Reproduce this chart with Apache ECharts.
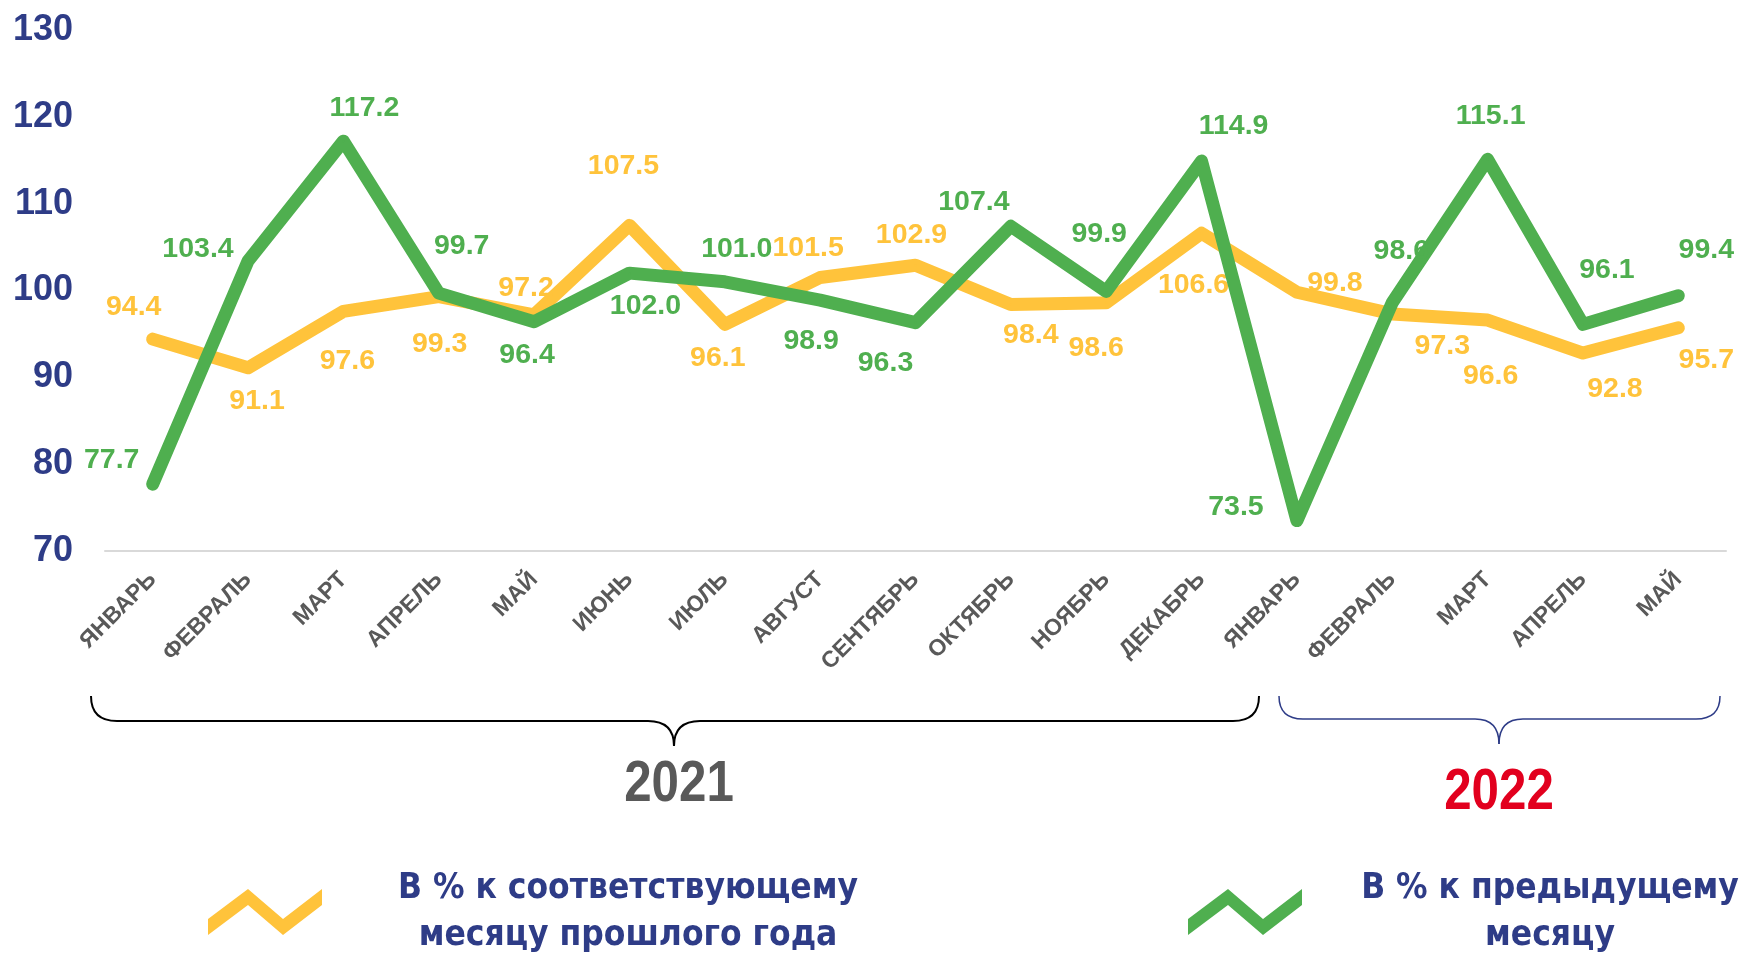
<!DOCTYPE html>
<html>
<head>
<meta charset="utf-8">
<script src="https://cdn.jsdelivr.net/npm/echarts@6/dist/echarts.min.js"></script>
<style>
html,body{margin:0;padding:0;background:#fff;}
#chart{width:1739px;height:953px;}
</style>
</head>
<body>
<div id="chart"></div>
<script>
const categories = ['ЯНВАРЬ','ФЕВРАЛЬ','МАРТ','АПРЕЛЬ','МАЙ','ИЮНЬ','ИЮЛЬ','АВГУСТ','СЕНТЯБРЬ','ОКТЯБРЬ','НОЯБРЬ','ДЕКАБРЬ','ЯНВАРЬ','ФЕВРАЛЬ','МАРТ','АПРЕЛЬ','МАЙ'];
const yoyValues = [94.4, 91.1, 97.6, 99.3, 97.2, 107.5, 96.1, 101.5, 102.9, 98.4, 98.6, 106.6, 99.8, 97.3, 96.6, 92.8, 95.7];
const momValues = [77.7, 103.4, 117.2, 99.7, 96.4, 102.0, 101.0, 98.9, 96.3, 107.4, 99.9, 114.9, 73.5, 98.6, 115.1, 96.1, 99.4];
const yoyName = 'В % к соответствующему месяцу прошлого года';
const momName = 'В % к предыдущему месяцу';
const yearLabels = ['2021', '2022'];
const yTicks = {min: 70, max: 130, interval: 10};

// label offsets (styling only)
const yoyLabelOffsets = [[-19,-32],[9,33],[4,50],[1,48],[-8,-27],[-6,-59],[-7,34],[-12,-29],[-4,-30],[20,31],[-10,45],[-8,52],[38,-9],[50,32],[3,56],[32,36],[28,32]];
const momLabelOffsets = [[-41,-24],[-50,-12],[21,-33],[23,-47],[-7,33],[16,33],[12,-33],[-9,41],[-30,41],[-37,-24],[-7,-57],[32,-35],[-61,-13],[9,-52],[3,-43],[24,-54],[28,-46]];

const YELLOW = '#FFC33B';
const GREEN = '#4FAF4F';
const NAVY = '#2E3C87';
const GRAY = '#595959';
const NARROW = '"Liberation Sans Narrow","DejaVu Sans Condensed","Liberation Sans",Arial,sans-serif';
const SANS = '"Liberation Sans",Arial,sans-serif';

const zigzag = 'path://M0,30L40,0L75,30L114,0L114,16L75,46L40,16L0,46Z';

function mkData(vals, offs) {
  return vals.map((v, i) => ({ value: v, label: { offset: offs[i] } }));
}

function brace(x0, x1, xt, y0, yh, yt, r, color, w) {
  const st = { stroke: color, lineWidth: w, fill: null };
  return [
    { type: 'bezierCurve', shape: { x1: x0, y1: y0, cpx1: x0, cpy1: yh, x2: x0 + r, y2: yh }, style: st },
    { type: 'line', shape: { x1: x0 + r, y1: yh, x2: xt - r, y2: yh }, style: st },
    { type: 'bezierCurve', shape: { x1: xt - r, y1: yh, cpx1: xt, cpy1: yh, x2: xt, y2: yt }, style: st },
    { type: 'bezierCurve', shape: { x1: xt, y1: yt, cpx1: xt, cpy1: yh, x2: xt + r, y2: yh }, style: st },
    { type: 'line', shape: { x1: xt + r, y1: yh, x2: x1 - r, y2: yh }, style: st },
    { type: 'bezierCurve', shape: { x1: x1 - r, y1: yh, cpx1: x1, cpy1: yh, x2: x1, y2: y0 }, style: st }
  ];
}

const chart = echarts.init(document.getElementById('chart'), null, {renderer: 'canvas'});

const lineSeries = (name, vals, offs, color, z) => ({
  name, type: 'line', data: mkData(vals, offs),
  symbol: 'circle', symbolSize: 2, showSymbol: true, showAllSymbol: true,
  itemStyle: { color: color },
  color: color,
  lineStyle: { width: 13, color: color, cap: 'round', join: 'round' },
  label: { show: true, position: 'inside', formatter: p => p.value.toFixed(1),
    color: color, fontFamily: SANS, fontWeight: 'bold', fontSize: 28.5 },
  emphasis: { disabled: true },
  z: z
});

chart.setOption({
  backgroundColor: '#fff',
  animation: false,
  grid: { left: 105, right: 13, top: 30, bottom: 402 },
  xAxis: {
    type: 'category',
    data: categories,
    boundaryGap: true,
    axisLine: { show: true, lineStyle: { color: '#D9D9D9', width: 2 } },
    axisTick: { show: false },
    axisLabel: {
      interval: 0, rotate: 45, margin: 25,
      color: GRAY, fontFamily: SANS, fontWeight: 'bold', fontSize: 23
    }
  },
  yAxis: {
    type: 'value',
    min: yTicks.min, max: yTicks.max, interval: yTicks.interval,
    splitLine: { show: false },
    axisLine: { show: false },
    axisTick: { show: false },
    axisLabel: { margin: 32, color: NAVY, fontFamily: SANS, fontWeight: 'bold', fontSize: 36, padding: [5, 0, 0, 0] }
  },
  legend: [
    {
      data: [{ name: yoyName, icon: zigzag }],
      left: 208, top: 871, padding: 0, selectedMode: false,
      itemWidth: 114, itemHeight: 46,
      formatter: () => '{a|В % к соответствующему}\n{a|месяцу прошлого года}',
      textStyle: {
        rich: { a: { width: 602, align: 'center', fontFamily: NARROW, fontWeight: 'bold', fontSize: 35, color: NAVY, lineHeight: 47 } }
      }
    },
    {
      data: [{ name: momName, icon: zigzag }],
      left: 1188, top: 871, padding: 0, selectedMode: false,
      itemWidth: 114, itemHeight: 46,
      formatter: () => '{a|В % к предыдущему}\n{a|месяцу}',
      textStyle: {
        rich: { a: { width: 486, align: 'center', fontFamily: NARROW, fontWeight: 'bold', fontSize: 35, color: NAVY, lineHeight: 47 } }
      }
    }
  ],
  series: [
    lineSeries(yoyName, yoyValues, yoyLabelOffsets, YELLOW, 2),
    lineSeries(momName, momValues, momLabelOffsets, GREEN, 3)
  ],
  graphic: [].concat(
    brace(91, 1259, 674, 696, 721, 746, 26, '#000', 2),
    brace(1279, 1720, 1499, 696, 719, 744, 24, NAVY, 1.5),
    [
      { type: 'text', x: 679, y: 785, scaleX: 0.85, style: { text: yearLabels[0], fill: GRAY, font: 'bold 58px ' + SANS, textAlign: 'center', textVerticalAlign: 'middle' } },
      { type: 'text', x: 1499, y: 793, scaleX: 0.85, style: { text: yearLabels[1], fill: '#E2001E', font: 'bold 58px ' + SANS, textAlign: 'center', textVerticalAlign: 'middle' } }
    ]
  )
});
</script>
</body>
</html>
